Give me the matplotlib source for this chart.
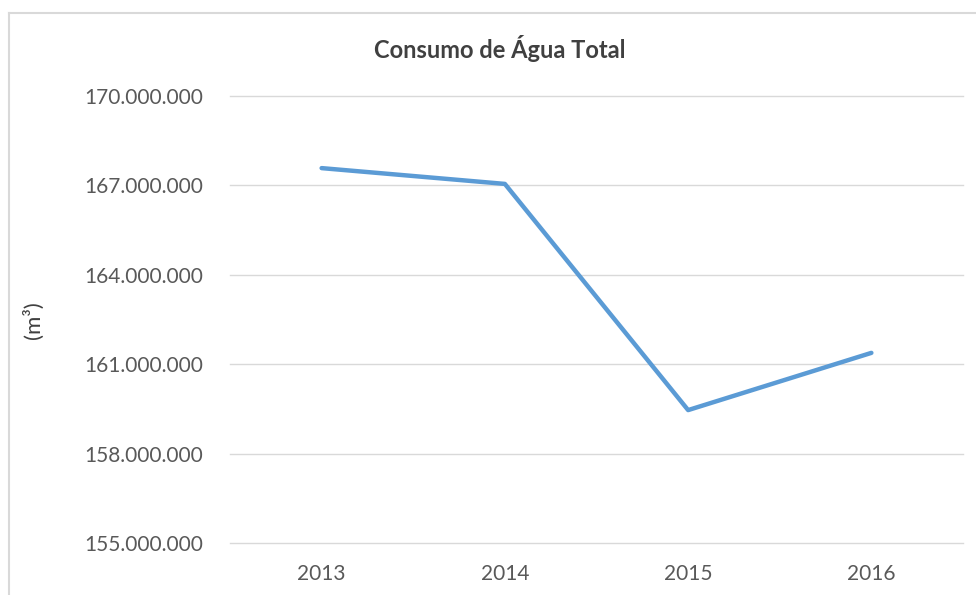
import matplotlib.pyplot as plt
import matplotlib.ticker as mticker
from matplotlib.lines import Line2D

anos = ['2013', '2014', '2015', '2016']
consumo = [167580000, 167050000, 159460000, 161380000]
yticks = [155000000, 158000000, 161000000, 164000000, 167000000, 170000000]

plt.rcParams['font.family'] = ['Lato', 'DejaVu Sans']

fig = plt.figure(figsize=(9.76, 5.95), dpi=100)
W, H = 976, 595
ax = fig.add_axes([230 / W, 1 - 543 / H, (963 - 230) / W, (543 - 96) / H])

ax.plot(range(len(anos)), consumo, color='#5B9BD5', lw=3.2, solid_capstyle='round')

ax.set_xlim(-0.5, len(anos) - 0.5)
ax.set_ylim(yticks[0], yticks[-1])
ax.set_xticks(range(len(anos)))
ax.set_xticklabels(anos)
ax.set_yticks(yticks)
ax.yaxis.set_major_formatter(mticker.FuncFormatter(lambda v, p: f'{int(v):,}'.replace(',', '.')))
ax.grid(axis='y', color='#d9d9d9', lw=1)
for gl in ax.get_ygridlines():
    gl.set_clip_on(False)
ax.set_axisbelow(True)
for s in ax.spines.values():
    s.set_visible(False)
ax.tick_params(length=0, labelsize=15, labelcolor='#595959')
ax.tick_params(axis='y', pad=19.5)
ax.tick_params(axis='x', pad=15)

fig.text(500 / W, 1 - 48 / H, 'Consumo de Água Total', ha='center', va='center',
         fontsize=17, fontweight='bold', color='#404040')
fig.text(33 / W, 1 - 320 / H, '(m³)', ha='center', va='center', rotation=90,
         fontsize=16, color='#404040')

# moldura do gráfico (só esquerda e topo visíveis)
fig.add_artist(Line2D([9 / W, 9 / W], [0, 1 - 13 / H], color='#d9d9d9', lw=1.5))
fig.add_artist(Line2D([9 / W, 1], [1 - 13 / H, 1 - 13 / H], color='#d9d9d9', lw=1.5))

fig.savefig('out.png', dpi=100)
